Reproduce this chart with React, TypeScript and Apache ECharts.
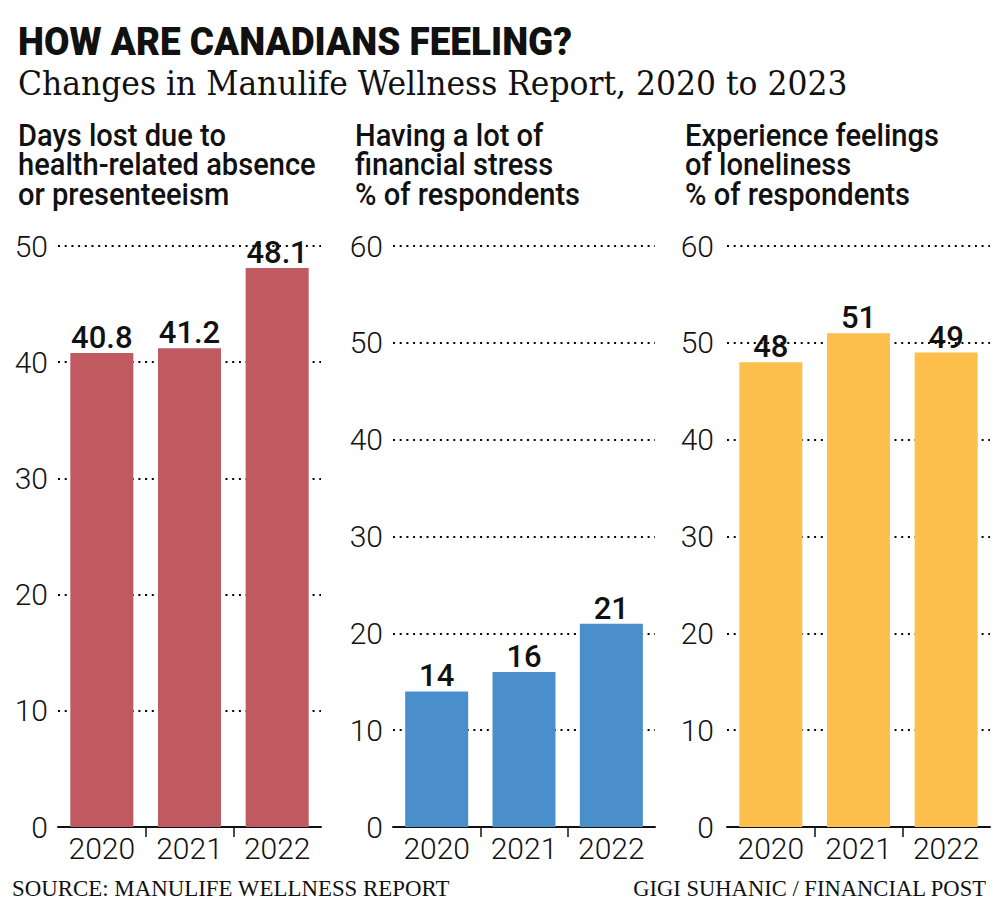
import React, { useEffect, useRef } from "react";
import * as echarts from "echarts";

// ---- data ----
const years = ["2020", "2021", "2022"];
const daysLost = [40.8, 41.2, 48.1];
const financialStress = [14, 16, 21];
const loneliness = [48, 51, 49];
const daysTicksMax = 50;
const percentTicksMax = 60;
const tickStep = 10;

const titleText = "HOW ARE CANADIANS FEELING?";
const subtitleText = "Changes in Manulife Wellness Report, 2020 to 2023";
const panelTitleLines = [
  ["Days lost due to", "health-related absence", "or presenteeism"],
  ["Having a lot of", "financial stress", "% of respondents"],
  ["Experience feelings", "of loneliness", "% of respondents"],
];
const sourceText = "SOURCE: MANULIFE WELLNESS REPORT";
const creditText = "GIGI SUHANIC / FINANCIAL POST";

// ---- styling / layout ----
const panels = [
  { values: daysLost, max: daysTicksMax, color: "#BE5A60", left: 58, width: 263, titleX: 18, labelMargin: 10 },
  { values: financialStress, max: percentTicksMax, color: "#4A8ECB", left: 393, width: 262, titleX: 355, labelMargin: 10 },
  { values: loneliness, max: percentTicksMax, color: "#FEBF4D", left: 727, width: 263, titleX: 685, labelMargin: 13 },
];
const GRID_TOP = 246;
const GRID_BOTTOM = 96;
const SANS = "Roboto";
const INK = "#111111";

function measure(text: string, font: string): number {
  const ctx = document.createElement("canvas").getContext("2d");
  if (!ctx) return 0;
  ctx.font = font;
  return ctx.measureText(text).width;
}
function fit(text: string, font: string, target: number): number {
  const w = measure(text, font);
  return w > 0 ? target / w : 1;
}

export default function App() {
  const ref = useRef<HTMLDivElement>(null);

  useEffect(() => {
    if (!ref.current) return;
    const chart = echarts.init(ref.current, undefined, { renderer: "svg" });

    const titleFont = `900 38px ${SANS}`;
    const subFont = `34px "DejaVu Serif"`;
    const panelFont = `500 31px ${SANS}`;
    const footFont = `23px "Liberation Serif"`;
    const panelScale = fit("health-related absence", panelFont, 298);

    const graphics: any[] = [
      {
        type: "text", x: 18, y: 42, scaleX: fit(titleText, titleFont, 554),
        style: { text: titleText, font: titleFont, fill: INK, textAlign: "left", textVerticalAlign: "middle" },
      },
      {
        type: "text", x: 18, y: 84, scaleX: fit(subtitleText, subFont, 830),
        style: { text: subtitleText, font: subFont, fill: INK, textAlign: "left", textVerticalAlign: "middle" },
      },
      {
        type: "text", x: 12, y: 888, scaleX: fit(sourceText, footFont, 438),
        style: { text: sourceText, font: footFont, fill: INK, textAlign: "left", textVerticalAlign: "middle" },
      },
      {
        type: "text", x: 986, y: 888, scaleX: fit(creditText, footFont, 354),
        style: { text: creditText, font: footFont, fill: INK, textAlign: "right", textVerticalAlign: "middle" },
      },
    ];
    panels.forEach((p, i) => {
      panelTitleLines[i].forEach((line, j) => {
        graphics.push({
          type: "text", x: p.titleX, y: 135 + j * 29.5, scaleX: panelScale,
          style: { text: line, font: panelFont, fill: INK, textAlign: "left", textVerticalAlign: "middle" },
        });
      });
    });

    const grid = panels.map((p) => ({
      left: p.left, width: p.width, top: GRID_TOP, bottom: GRID_BOTTOM, containLabel: false,
    }));

    const xAxis: any[] = [];
    panels.forEach((p, i) => {
      xAxis.push({
        type: "category", gridIndex: i, data: years, position: "bottom",
        axisLine: { show: true, lineStyle: { color: INK, width: 2 } },
        axisTick: { show: false },
        axisLabel: { fontFamily: SANS, fontWeight: 300, fontSize: 30, color: INK, margin: 6 },
        splitLine: { show: false },
      });
    });
    panels.forEach((p, i) => {
      xAxis.push({
        type: "value", gridIndex: i, min: 0, max: years.length, interval: 1, position: "bottom",
        axisLine: { show: false, onZero: false },
        axisLabel: { show: false },
        splitLine: { show: false },
        axisTick: {
          show: true, length: 10, inside: false,
          customValues: years.slice(1).map((_, k) => k + 1),
          lineStyle: { color: INK, width: 1.5 },
        },
      });
    });

    const yAxis = panels.map((p, i) => ({
      type: "value", gridIndex: i, min: 0, max: p.max, interval: tickStep,
      axisLine: { show: false }, axisTick: { show: false },
      axisLabel: { fontFamily: SANS, fontWeight: 300, fontSize: 30, color: INK, margin: p.labelMargin },
      splitLine: { show: true, lineStyle: { color: "#000000", width: 2, type: [2, 4.7] } },
    }));

    const series = panels.map((p, i) => ({
      type: "bar", xAxisIndex: i, yAxisIndex: i, data: p.values, barWidth: 63,
      itemStyle: { color: p.color },
      label: {
        show: true, position: "top", distance: 0,
        fontFamily: SANS, fontWeight: 500, fontSize: 31, color: INK,
      },
    }));

    chart.setOption({
      animation: false,
      backgroundColor: "#ffffff",
      grid, xAxis, yAxis, series,
      graphic: graphics,
    });

    return () => chart.dispose();
  }, []);

  return (
    <div
      ref={ref}
      style={{ position: "absolute", left: 0, top: 0, width: 1000, height: 923 }}
    />
  );
}
